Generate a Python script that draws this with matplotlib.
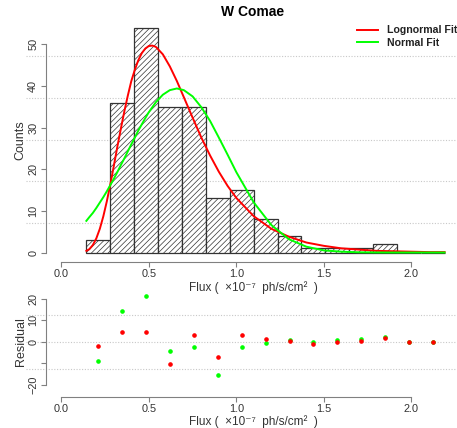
import numpy as np
import matplotlib
matplotlib.use("Agg")
import matplotlib.pyplot as plt

plt.rcParams['font.family'] = ['Liberation Sans', 'DejaVu Sans']
plt.rcParams['hatch.linewidth'] = 0.5
plt.rcParams['hatch.color'] = '#444444'

# histogram of flux (x 1e-7 ph/s/cm^2)
bin_edges = [0.143, 0.280, 0.416, 0.553, 0.689, 0.826, 0.963, 1.099, 1.236,
             1.372, 1.509, 1.646, 1.782, 1.919, 2.055, 2.192]
counts = [3, 36, 54, 35, 35, 13, 15, 8, 4, 1, 1, 1, 2, 0, 0]

# fitted curves
curve_x = [0.143, 0.16, 0.18, 0.20, 0.22, 0.24, 0.26, 0.28, 0.30, 0.32, 0.34,
           0.36, 0.38, 0.40, 0.42, 0.44, 0.46, 0.48, 0.50, 0.52, 0.54, 0.58,
           0.62, 0.66, 0.70, 0.75, 0.80, 0.85, 0.90, 0.95, 1.00, 1.10, 1.20,
           1.30, 1.40, 1.50, 1.60, 1.70, 1.80, 1.90, 2.00, 2.10, 2.19]
lognormal_fit = [0.4, 0.8, 1.8, 3.4, 5.7, 8.7, 12.3, 16.4, 20.8, 25.4, 29.7,
                 33.9, 37.7, 41.2, 43.9, 46.2, 47.9, 49.0, 49.6, 49.7, 49.4, 47.6,
                 44.7, 41.2, 37.3, 32.4, 27.6, 23.3, 19.4, 16.0, 13.1, 8.7, 5.7,
                 3.8, 2.4, 1.6, 1.0, 0.7, 0.4, 0.3, 0.2, 0.1, 0.1]
normal_fit = [7.6, 8.5, 9.5, 10.7, 12.0, 13.3, 14.7, 16.2, 17.7, 19.3, 21.0,
              22.6, 24.3, 26.0, 27.6, 29.3, 30.8, 32.3, 33.7, 34.9, 36.1, 37.9,
              39.0, 39.4, 39.0, 37.5, 34.9, 31.6, 27.6, 23.5, 19.3, 12.0, 6.6,
              3.2, 1.4, 0.5, 0.2, 0.05, 0.01, 0.0, 0.0, 0.0, 0.0]

# residuals at bin centres
res_lognormal = [-1.9, 4.7, 4.7, -10.2, 3.0, -7.1, 3.3, 1.3, 0.5, -1.2, -0.3,
                 0.3, 1.6, -0.3, -0.3]
res_normal = [-8.8, 14.1, 21.4, -4.3, -2.6, -15.6, -2.5, -0.5, 0.8, 0.0, 0.8,
              1.2, 2.1, 0.0, 0.0]

grid_top = [7.1, 17.1, 27.1, 37.1, 47.1]
grid_bot = [-12.5, 0, 12.5]

edges = np.array(bin_edges)
centers = (edges[:-1] + edges[1:]) / 2
widths = np.diff(edges)

W, H = 457, 428
fig = plt.figure(figsize=(W / 100, H / 100), dpi=100)
ax1 = fig.add_axes([46 / W, 1 - 261.5 / H, 414 / W, 242.8 / H])
ax2 = fig.add_axes([46 / W, 1 - 396.7 / H, 414 / W, 110 / H])
ax1.patch.set_visible(False)
ax2.patch.set_visible(False)

xlab = 'Flux (  \u00d710\u207b\u2077  ph/s/cm\u00b2  )'
spine_col = '#808080'
txt_col = '#333333'


def style(ax, ybounds, lpad):
    for s in ['top', 'right']:
        ax.spines[s].set_visible(False)
    ax.spines['left'].set_bounds(*ybounds)
    ax.spines['bottom'].set_bounds(0, 2)
    for s in ['left', 'bottom']:
        ax.spines[s].set_color(spine_col)
    ax.tick_params(colors=spine_col, labelcolor=txt_col, labelsize=7.8,
                   length=3.6, width=0.8)
    ax.tick_params(axis='x', pad=1.5)
    ax.tick_params(axis='y', pad=2.0)
    ax.set_xlim(-0.0876, 2.278)
    ax.set_xticks([0, 0.5, 1.0, 1.5, 2.0])
    ax.set_xticklabels(['0.0', '0.5', '1.0', '1.5', '2.0'])
    plt.setp(ax.get_yticklabels(), rotation=90, va='center')
    ax.set_xlabel(xlab, fontsize=8.5, color=txt_col, labelpad=lpad)


def hgrid(ax, levels):
    for g in levels:
        ax.plot([-0.2, 2.3], [g, g], color='#c8c8c8', lw=0.8, ls=(0, (1, 1.5)),
                clip_on=False, zorder=0)


# top panel: histogram + fits
hgrid(ax1, grid_top)
ax1.bar(edges[:-1], counts, width=widths, align='edge', facecolor='white',
        edgecolor='#333333', linewidth=0.9, hatch='//////', zorder=1)
ax1.plot(curve_x, lognormal_fit, color='#ff0000', lw=1.4, label='Lognormal Fit', zorder=3)
ax1.plot(curve_x, normal_fit, color='#00ff00', lw=1.4, label='Normal Fit', zorder=3)
ax1.set_ylim(-2.16, 56.16)
ax1.set_yticks([0, 10, 20, 30, 40, 50])
style(ax1, (0, 50), 2)
ax1.set_ylabel('Counts', fontsize=9, color=txt_col, labelpad=1)
ax1.set_title('W Comae', fontsize=10, fontweight='bold', pad=-3.5, x=0.5)
leg = fig.legend(loc='upper left', bbox_to_anchor=(352 / W, 1 - 20 / H),
                 frameon=False, fontsize=7.6, handlelength=2.0,
                 handletextpad=0.8, labelspacing=0.25, borderpad=0)
for t in leg.get_texts():
    t.set_fontweight('bold')
    t.set_color('#222222')

# bottom panel: residuals
hgrid(ax2, grid_bot)
ax2.plot(centers, res_normal, 'o', color='#00ff00', ms=2.3, zorder=3)
ax2.plot(centers, res_lognormal, 'o', color='#ff0000', ms=2.3, zorder=3)
ax2.set_ylim(-25.6, 25.6)
ax2.set_yticks([-20, -10, 0, 10, 20])
ax2.set_yticklabels(['\u221220', '', '0', '10', '20'])
style(ax2, (-20, 20), 1)
ax2.set_ylabel('Residual', fontsize=9, color=txt_col, labelpad=1)

fig.savefig('out.png', dpi=100, facecolor='white')
